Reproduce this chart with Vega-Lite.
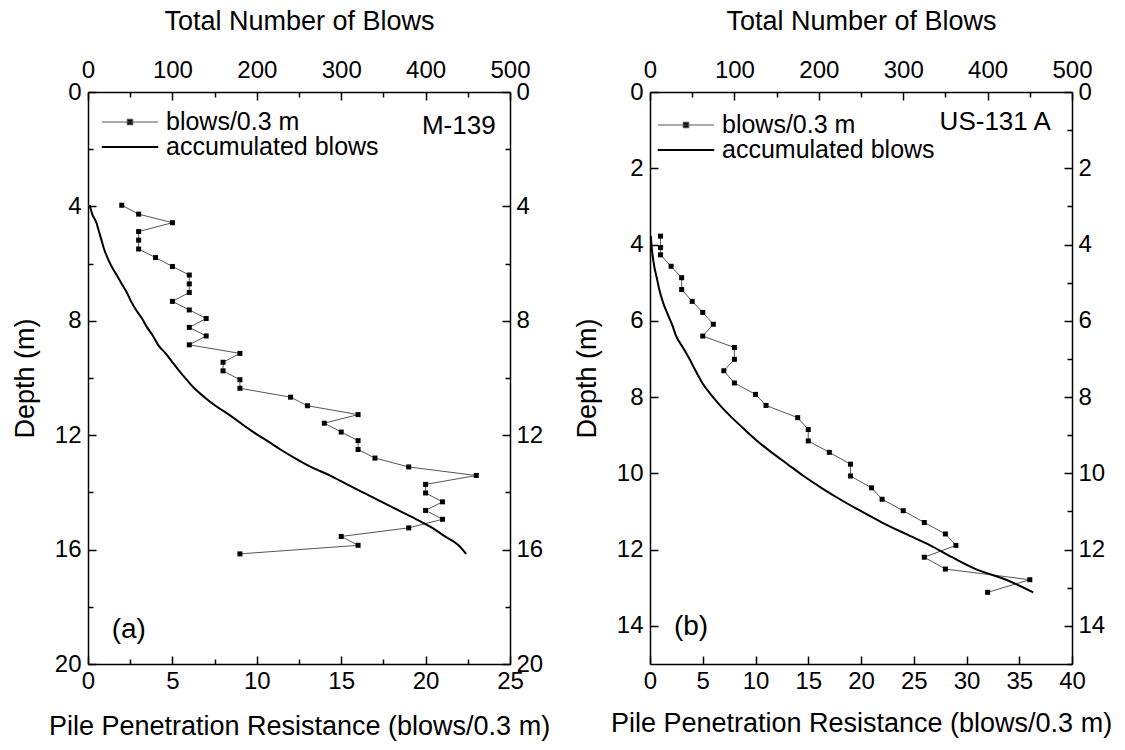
{
  "$schema": "https://vega.github.io/schema/vega-lite/v6.json",
  "background": "white",
  "padding": {"left": 11, "top": 7, "right": 5, "bottom": 5},
  "spacing": 23,
  "config": {
    "view": {"stroke": null},
    "font": "Liberation Sans",
    "axis": {
      "domainColor": "black", "domainWidth": 1.5,
      "tickColor": "black", "tickWidth": 1.5,
      "labelFont": "Liberation Sans", "labelFontSize": 24, "labelColor": "black",
      "titleFont": "Liberation Sans", "titleFontSize": 27, "titleFontWeight": "normal", "titleColor": "black",
      "grid": false, "labelOverlap": false, "labelFlush": false
    },
    "legend": {
      "padding": 0, "labelFont": "Liberation Sans", "labelFontSize": 25, "labelColor": "black", "labelLimit": 0,
      "rowPadding": 0, "clipHeight": 20, "symbolType": "stroke", "symbolSize": 400, "symbolStrokeWidth": 1, "labelOffset": 40
    }
  },
  "datasets": {
    "a": [
      {"depth": 3.96, "blows": 2, "acc": 2},
      {"depth": 4.27, "blows": 3, "acc": 5},
      {"depth": 4.57, "blows": 5, "acc": 10},
      {"depth": 4.88, "blows": 3, "acc": 13},
      {"depth": 5.18, "blows": 3, "acc": 16},
      {"depth": 5.49, "blows": 3, "acc": 19},
      {"depth": 5.79, "blows": 4, "acc": 23},
      {"depth": 6.10, "blows": 5, "acc": 28},
      {"depth": 6.40, "blows": 6, "acc": 34},
      {"depth": 6.71, "blows": 6, "acc": 40},
      {"depth": 7.01, "blows": 6, "acc": 46},
      {"depth": 7.32, "blows": 5, "acc": 51},
      {"depth": 7.62, "blows": 6, "acc": 57},
      {"depth": 7.92, "blows": 7, "acc": 64},
      {"depth": 8.23, "blows": 6, "acc": 70},
      {"depth": 8.53, "blows": 7, "acc": 77},
      {"depth": 8.84, "blows": 6, "acc": 83},
      {"depth": 9.14, "blows": 9, "acc": 92},
      {"depth": 9.45, "blows": 8, "acc": 100},
      {"depth": 9.75, "blows": 8, "acc": 108},
      {"depth": 10.06, "blows": 9, "acc": 117},
      {"depth": 10.36, "blows": 9, "acc": 126},
      {"depth": 10.67, "blows": 12, "acc": 138},
      {"depth": 10.97, "blows": 13, "acc": 151},
      {"depth": 11.28, "blows": 16, "acc": 167},
      {"depth": 11.58, "blows": 14, "acc": 181},
      {"depth": 11.89, "blows": 15, "acc": 196},
      {"depth": 12.19, "blows": 16, "acc": 212},
      {"depth": 12.50, "blows": 16, "acc": 228},
      {"depth": 12.80, "blows": 17, "acc": 245},
      {"depth": 13.11, "blows": 19, "acc": 264},
      {"depth": 13.41, "blows": 23, "acc": 287},
      {"depth": 13.72, "blows": 20, "acc": 307},
      {"depth": 14.02, "blows": 20, "acc": 327},
      {"depth": 14.33, "blows": 21, "acc": 348},
      {"depth": 14.63, "blows": 20, "acc": 368},
      {"depth": 14.94, "blows": 21, "acc": 389},
      {"depth": 15.24, "blows": 19, "acc": 408},
      {"depth": 15.54, "blows": 15, "acc": 423},
      {"depth": 15.85, "blows": 16, "acc": 439},
      {"depth": 16.15, "blows": 9, "acc": 448}
    ],
    "b": [
      {"depth": 3.78, "blows": 1, "acc": 1},
      {"depth": 4.08, "blows": 1, "acc": 2},
      {"depth": 4.27, "blows": 1, "acc": 3},
      {"depth": 4.57, "blows": 2, "acc": 5},
      {"depth": 4.87, "blows": 3, "acc": 8},
      {"depth": 5.18, "blows": 3, "acc": 11},
      {"depth": 5.49, "blows": 4, "acc": 15},
      {"depth": 5.78, "blows": 5, "acc": 20},
      {"depth": 6.09, "blows": 6, "acc": 26},
      {"depth": 6.40, "blows": 5, "acc": 31},
      {"depth": 6.70, "blows": 8, "acc": 39},
      {"depth": 7.01, "blows": 8, "acc": 47},
      {"depth": 7.31, "blows": 7, "acc": 54},
      {"depth": 7.63, "blows": 8, "acc": 62},
      {"depth": 7.93, "blows": 10, "acc": 72},
      {"depth": 8.22, "blows": 11, "acc": 83},
      {"depth": 8.54, "blows": 14, "acc": 97},
      {"depth": 8.85, "blows": 15, "acc": 112},
      {"depth": 9.15, "blows": 15, "acc": 127},
      {"depth": 9.45, "blows": 17, "acc": 144},
      {"depth": 9.76, "blows": 19, "acc": 163},
      {"depth": 10.07, "blows": 19, "acc": 182},
      {"depth": 10.38, "blows": 21, "acc": 203},
      {"depth": 10.68, "blows": 22, "acc": 225},
      {"depth": 10.98, "blows": 24, "acc": 249},
      {"depth": 11.29, "blows": 26, "acc": 275},
      {"depth": 11.59, "blows": 28, "acc": 303},
      {"depth": 11.89, "blows": 29, "acc": 332},
      {"depth": 12.20, "blows": 26, "acc": 358},
      {"depth": 12.51, "blows": 28, "acc": 386},
      {"depth": 12.79, "blows": 36, "acc": 422},
      {"depth": 13.12, "blows": 32, "acc": 454}
    ]
  },
  "resolve": {"scale": {"color": "independent"}, "legend": {"color": "independent"}},
  "hconcat": [
    {
      "width": 422, "height": 572,
      "data": {"name": "a"},
      "layer": [
        {
          "layer": [
            {
              "mark": {"type": "line", "strokeWidth": 1},
              "encoding": {
                "x": {"field": "blows", "type": "quantitative", "scale": {"domain": [0, 25], "nice": false},
                  "axis": {"orient": "bottom", "title": "Pile Penetration Resistance (blows/0.3 m)",
                    "values": [0, 2.5, 5, 7.5, 10, 12.5, 15, 17.5, 20, 22.5, 25],
                    "labelExpr": "datum.value % 5 === 0 ? datum.label : ''",
                    "tickSize": {"condition": {"test": "datum.value % 5 === 0", "value": -8}, "value": -5},
                    "labelPadding": 13, "titlePadding": 17}},
                "y": {"field": "depth", "type": "quantitative", "scale": {"domain": [0, 20], "reverse": true, "nice": false},
                  "axis": {"orient": "left", "title": "Depth (m)",
                    "values": [0, 2, 4, 6, 8, 10, 12, 14, 16, 18, 20],
                    "labelExpr": "datum.value % 4 === 0 ? datum.label : ''",
                    "tickSize": {"condition": {"test": "datum.value % 4 === 0", "value": -8}, "value": -5},
                    "labelPadding": 15, "titlePadding": 15}},
                "order": {"field": "depth"},
                "color": {"datum": "blows/0.3 m",
                  "scale": {"domain": ["blows/0.3 m", "accumulated blows"], "range": ["#555555", "#000000"]},
                  "legend": {"title": null, "orient": "none", "legendX": 13, "legendY": 20,
                    "encode": {"symbols": {"update": {
                      "shape": {"signal": "datum.value === 'accumulated blows' ? 'M-1.15,-0.05H4.45V0.05H-1.15Z' : 'M-1.15,0H4.45M1.37,-0.28H1.93V0.28H1.37Z'"},
                      "fill": {"value": "black"}
                    }}}}}
              }
            },
            {
              "mark": {"type": "point", "shape": "square", "size": 25, "filled": true, "color": "black", "opacity": 1},
              "encoding": {
                "x": {"field": "blows", "type": "quantitative"},
                "y": {"field": "depth", "type": "quantitative"}
              }
            },
            {
              "data": {"values": [{"label": "M-139"}]},
              "mark": {"type": "text", "align": "right", "baseline": "middle", "fontSize": 26, "font": "Liberation Sans", "color": "black"},
              "encoding": {
                "x": {"datum": 24.15, "type": "quantitative"},
                "y": {"datum": 1.2, "type": "quantitative"},
                "text": {"field": "label"}
              }
            },
            {
              "data": {"values": [{"label": "(a)"}]},
              "mark": {"type": "text", "align": "left", "baseline": "middle", "fontSize": 28, "font": "Liberation Sans", "color": "black"},
              "encoding": {
                "x": {"datum": 1.4, "type": "quantitative"},
                "y": {"datum": 18.8, "type": "quantitative"},
                "text": {"field": "label"}
              }
            }
          ]
        },
        {
          "mark": {"type": "line", "strokeWidth": 2, "interpolate": "monotone"},
          "encoding": {
            "x": {"field": "acc", "type": "quantitative", "scale": {"domain": [0, 500], "nice": false},
              "axis": {"orient": "top", "title": "Total Number of Blows",
                "values": [0, 50, 100, 150, 200, 250, 300, 350, 400, 450, 500],
                "labelExpr": "datum.value % 100 === 0 ? datum.label : ''",
                "tickSize": {"condition": {"test": "datum.value % 100 === 0", "value": -8}, "value": -5},
                "labelPadding": 18, "titlePadding": 20}},
            "y": {"field": "depth", "type": "quantitative", "scale": {"domain": [0, 20], "reverse": true, "nice": false},
              "axis": {"orient": "right", "title": null,
                "values": [0, 2, 4, 6, 8, 10, 12, 14, 16, 18, 20],
                "labelExpr": "datum.value % 4 === 0 ? datum.label : ''",
                "tickSize": {"condition": {"test": "datum.value % 4 === 0", "value": -8}, "value": -5},
                "labelPadding": 14}},
            "order": {"field": "depth"},
            "color": {"datum": "accumulated blows",
              "legend": {"title": null, "orient": "none", "legendX": 13, "legendY": 20,
                "encode": {"symbols": {"update": {
                  "shape": {"signal": "datum.value === 'accumulated blows' ? 'M-1.15,-0.05H4.45V0.05H-1.15Z' : 'M-1.15,0H4.45M1.37,-0.28H1.93V0.28H1.37Z'"},
                  "fill": {"value": "black"}
                }}}}}
          }
        }
      ],
      "resolve": {"scale": {"x": "independent", "y": "independent"}}
    },
    {
      "width": 422, "height": 572,
      "data": {"name": "b"},
      "layer": [
        {
          "layer": [
            {
              "mark": {"type": "line", "strokeWidth": 1},
              "encoding": {
                "x": {"field": "blows", "type": "quantitative", "scale": {"domain": [0, 40], "nice": false},
                  "axis": {"orient": "bottom", "title": "Pile Penetration Resistance (blows/0.3 m)",
                    "values": [0, 2.5, 5, 7.5, 10, 12.5, 15, 17.5, 20, 22.5, 25, 27.5, 30, 32.5, 35, 37.5, 40],
                    "labelExpr": "datum.value % 5 === 0 ? datum.label : ''",
                    "tickSize": {"condition": {"test": "datum.value % 5 === 0", "value": -8}, "value": -5},
                    "labelPadding": 13, "titlePadding": 17}},
                "y": {"field": "depth", "type": "quantitative", "scale": {"domain": [0, 15], "reverse": true, "nice": false},
                  "axis": {"orient": "left", "title": "Depth (m)",
                    "values": [0, 1, 2, 3, 4, 5, 6, 7, 8, 9, 10, 11, 12, 13, 14, 15],
                    "labelExpr": "datum.value % 2 === 0 && datum.value < 15 ? datum.label : ''",
                    "tickSize": {"condition": {"test": "datum.value % 2 === 0", "value": -8}, "value": -5},
                    "labelPadding": 15, "titlePadding": 15}},
                "order": {"field": "depth"},
                "color": {"datum": "blows/0.3 m",
                  "scale": {"domain": ["blows/0.3 m", "accumulated blows"], "range": ["#555555", "#000000"]},
                  "legend": {"title": null, "orient": "none", "legendX": 7, "legendY": 23,
                    "encode": {"symbols": {"update": {
                      "shape": {"signal": "datum.value === 'accumulated blows' ? 'M-1.15,-0.05H4.45V0.05H-1.15Z' : 'M-1.15,0H4.45M1.37,-0.28H1.93V0.28H1.37Z'"},
                      "fill": {"value": "black"}
                    }}}}}
              }
            },
            {
              "mark": {"type": "point", "shape": "square", "size": 25, "filled": true, "color": "black", "opacity": 1},
              "encoding": {
                "x": {"field": "blows", "type": "quantitative"},
                "y": {"field": "depth", "type": "quantitative"}
              }
            },
            {
              "data": {"values": [{"label": "US-131 A"}]},
              "mark": {"type": "text", "align": "right", "baseline": "middle", "fontSize": 26, "font": "Liberation Sans", "color": "black"},
              "encoding": {
                "x": {"datum": 38.0, "type": "quantitative"},
                "y": {"datum": 0.79, "type": "quantitative"},
                "text": {"field": "label"}
              }
            },
            {
              "data": {"values": [{"label": "(b)"}]},
              "mark": {"type": "text", "align": "left", "baseline": "middle", "fontSize": 28, "font": "Liberation Sans", "color": "black"},
              "encoding": {
                "x": {"datum": 2.27, "type": "quantitative"},
                "y": {"datum": 14.04, "type": "quantitative"},
                "text": {"field": "label"}
              }
            }
          ]
        },
        {
          "mark": {"type": "line", "strokeWidth": 2, "interpolate": "monotone"},
          "encoding": {
            "x": {"field": "acc", "type": "quantitative", "scale": {"domain": [0, 500], "nice": false},
              "axis": {"orient": "top", "title": "Total Number of Blows",
                "values": [0, 50, 100, 150, 200, 250, 300, 350, 400, 450, 500],
                "labelExpr": "datum.value % 100 === 0 ? datum.label : ''",
                "tickSize": {"condition": {"test": "datum.value % 100 === 0", "value": -8}, "value": -5},
                "labelPadding": 18, "titlePadding": 20}},
            "y": {"field": "depth", "type": "quantitative", "scale": {"domain": [0, 15], "reverse": true, "nice": false},
              "axis": {"orient": "right", "title": null,
                "values": [0, 1, 2, 3, 4, 5, 6, 7, 8, 9, 10, 11, 12, 13, 14, 15],
                "labelExpr": "datum.value % 2 === 0 && datum.value < 15 ? datum.label : ''",
                "tickSize": {"condition": {"test": "datum.value % 2 === 0", "value": -8}, "value": -5},
                "labelPadding": 14}},
            "order": {"field": "depth"},
            "color": {"datum": "accumulated blows",
              "legend": {"title": null, "orient": "none", "legendX": 7, "legendY": 23,
                "encode": {"symbols": {"update": {
                  "shape": {"signal": "datum.value === 'accumulated blows' ? 'M-1.15,-0.05H4.45V0.05H-1.15Z' : 'M-1.15,0H4.45M1.37,-0.28H1.93V0.28H1.37Z'"},
                  "fill": {"value": "black"}
                }}}}}
          }
        }
      ],
      "resolve": {"scale": {"x": "independent", "y": "independent"}}
    }
  ]
}
